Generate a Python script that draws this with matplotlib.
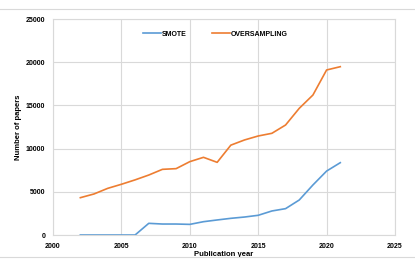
import matplotlib
matplotlib.use("Agg")
import matplotlib.pyplot as plt
from matplotlib.lines import Line2D

years = [2002, 2003, 2004, 2005, 2006, 2007, 2008, 2009, 2010, 2011,
         2012, 2013, 2014, 2015, 2016, 2017, 2018, 2019, 2020, 2021]
smote = [0, 0, 0, 0, 0, 1350, 1270, 1270, 1230, 1540,
         1740, 1930, 2080, 2280, 2780, 3050, 4050, 5790, 7400, 8370]
oversampling = [4320, 4750, 5400, 5870, 6380, 6940, 7600, 7680, 8490, 8990,
                8410, 10400, 11000, 11460, 11770, 12730, 14660, 16200, 19100, 19480]

xticks = [2000, 2005, 2010, 2015, 2020, 2025]
yticks = [0, 5000, 10000, 15000, 20000, 25000]

plt.rcParams['font.family'] = ['Liberation Sans', 'DejaVu Sans']

fig = plt.figure(figsize=(4.15, 2.67), dpi=100)
ax = fig.add_axes([53/415, 32/267, 342/415, 216/267])

grid_c = '#D9D9D9'
ax.plot(years, smote, color='#5B9BD5', lw=1.2, label='SMOTE')
ax.plot(years, oversampling, color='#ED7D31', lw=1.2, label='OVERSAMPLING')

ax.set_xlim(2000, 2025)
ax.set_ylim(0, 25000)
ax.set_xticks(xticks)
ax.set_yticks(yticks)
ax.set_xticklabels([str(v) for v in xticks], fontsize=5, fontweight='bold')
ax.set_yticklabels([str(v) for v in yticks], fontsize=5, fontweight='bold')
ax.tick_params(length=0, pad=5.5)
ax.grid(True, color=grid_c, lw=0.8)
ax.set_axisbelow(True)
for s in ax.spines.values():
    s.set_color(grid_c)
    s.set_linewidth(0.8)

ax.set_xlabel('Publication year', fontsize=5.5, fontweight='bold', labelpad=1)
ax.set_ylabel('Number of papers', fontsize=5.5, fontweight='bold', labelpad=3)

ax.legend(loc='center', bbox_to_anchor=(0.474, 0.93), ncol=2, frameon=False,
          prop={'size': 5, 'weight': 'bold'}, handlelength=2.6, columnspacing=3.6,
          handletextpad=0.15)

fig.add_artist(Line2D([0, 1], [1 - 9/267, 1 - 9/267], color=grid_c, lw=0.8))
fig.add_artist(Line2D([0, 1], [1 - 257/267, 1 - 257/267], color=grid_c, lw=0.8))

fig.savefig('out.png', dpi=100)
